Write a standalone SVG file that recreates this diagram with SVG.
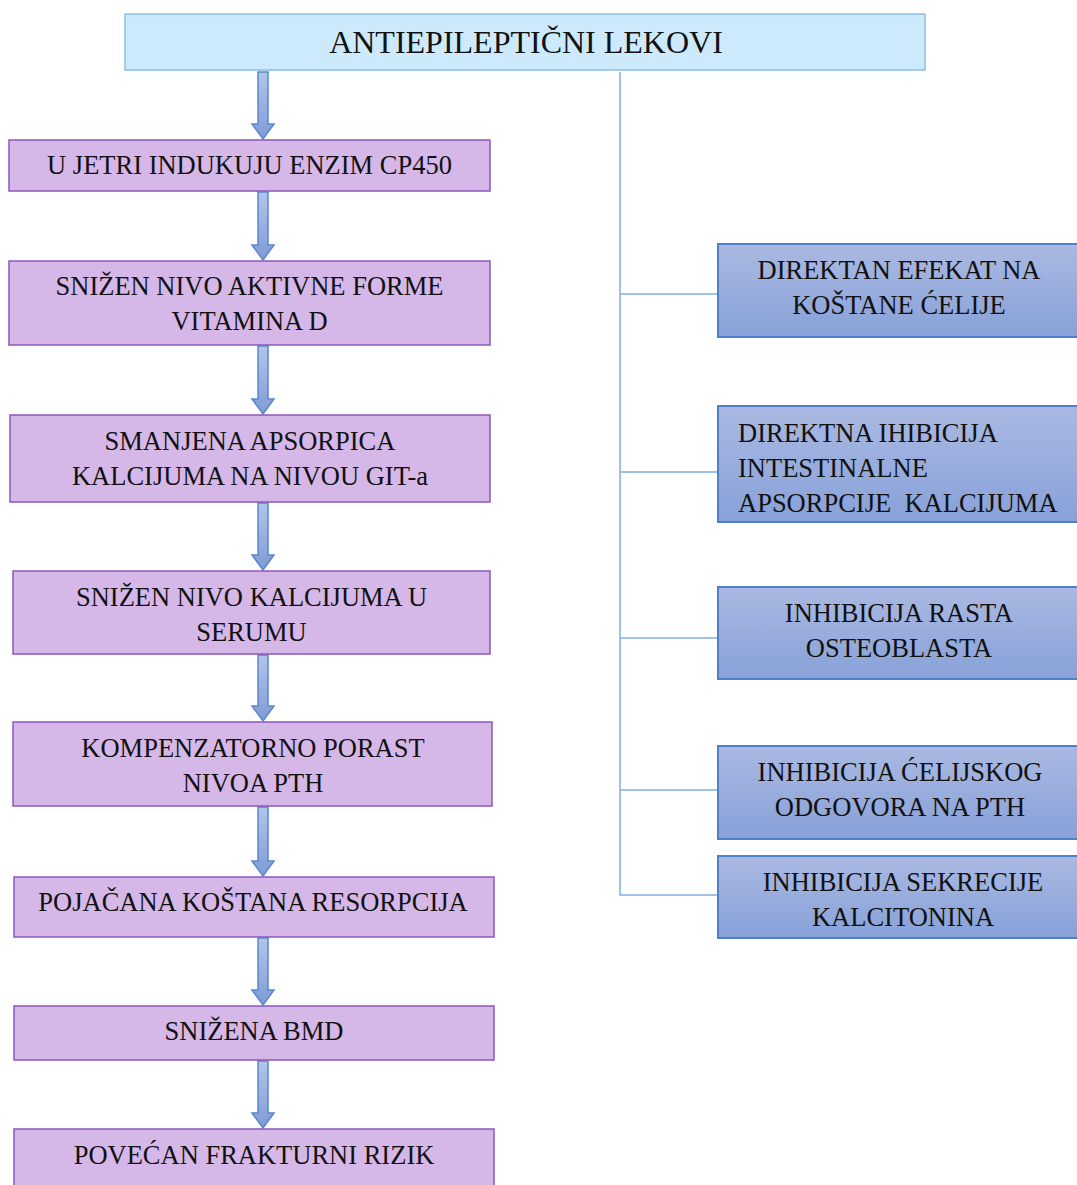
<svg xmlns="http://www.w3.org/2000/svg" width="1077" height="1185" viewBox="0 0 1077 1185">
<style>
  text { font-family: "Liberation Serif", "Times New Roman", serif; font-size: 26.5px; fill: #111; }
  .c { text-anchor: middle; }
  .top { fill: #cdeafc; stroke: #8dbde8; stroke-width: 1.5; }
  .left { fill: #d5b8e8; stroke: #8e56bb; stroke-width: 1.5; }
  .right { fill: url(#gBlue); stroke: #4f7fcc; stroke-width: 2; }
  .arrow { fill: url(#gArrow); stroke: #5b86cf; stroke-width: 1.5; stroke-linejoin: miter; }
  .tree { fill: none; stroke: #7fb0e0; stroke-width: 1.5; }
</style>
<defs>
  <linearGradient id="gBlue" x1="0" y1="0" x2="0" y2="1">
    <stop offset="0" stop-color="#aab9e2"/>
    <stop offset="1" stop-color="#88a1d8"/>
  </linearGradient>
  <linearGradient id="gArrow" x1="0" y1="0" x2="0" y2="1">
    <stop offset="0" stop-color="#b2c5ea"/>
    <stop offset="1" stop-color="#7f9bd6"/>
  </linearGradient>
</defs>

<g id="connectors">
  <path class="arrow" d="M258,72 H268 V124 H274 L263,139 L252,124 H258 Z"/>
  <path class="arrow" d="M258,192 H268 V245 H274 L263,260 L252,245 H258 Z"/>
  <path class="arrow" d="M258,346 H268 V399 H274 L263,414 L252,399 H258 Z"/>
  <path class="arrow" d="M258,503 H268 V555 H274 L263,570 L252,555 H258 Z"/>
  <path class="arrow" d="M258,655 H268 V706 H274 L263,721 L252,706 H258 Z"/>
  <path class="arrow" d="M258,807 H268 V861 H274 L263,876 L252,861 H258 Z"/>
  <path class="arrow" d="M258,938 H268 V990 H274 L263,1005 L252,990 H258 Z"/>
  <path class="arrow" d="M258,1061 H268 V1113 H274 L263,1128 L252,1113 H258 Z"/>
  <path class="tree" d="M620,72 V895 H718 M620,294 H718 M620,472 H718 M620,638 H718 M620,790 H718"/>
</g>

<g id="n0">
  <rect class="top" x="125" y="14" width="800" height="56"/>
  <text class="c" x="526" y="53" style="font-size:32px">ANTIEPILEPTIČNI LEKOVI</text>
</g>

<g id="n1">
  <rect class="left" x="9" y="140" width="481" height="51"/>
  <text class="c" x="249.5" y="174">U JETRI INDUKUJU ENZIM CP450</text>
</g>
<g id="n2">
  <rect class="left" x="9" y="261" width="481" height="84"/>
  <text class="c" x="249.5" y="295">SNIŽEN NIVO AKTIVNE FORME</text>
  <text class="c" x="249.5" y="330">VITAMINA D</text>
</g>
<g id="n3">
  <rect class="left" x="10" y="415" width="480" height="87"/>
  <text class="c" x="250" y="450">SMANJENA APSORPICA</text>
  <text class="c" x="250" y="485">KALCIJUMA NA NIVOU GIT-a</text>
</g>
<g id="n4">
  <rect class="left" x="13" y="571" width="477" height="83"/>
  <text class="c" x="251.5" y="606">SNIŽEN NIVO KALCIJUMA U</text>
  <text class="c" x="251.5" y="641">SERUMU</text>
</g>
<g id="n5">
  <rect class="left" x="13" y="722" width="479" height="84"/>
  <text class="c" x="253" y="757">KOMPENZATORNO PORAST</text>
  <text class="c" x="253" y="792">NIVOA PTH</text>
</g>
<g id="n6">
  <rect class="left" x="14" y="877" width="480" height="60"/>
  <text class="c" x="253" y="911">POJAČANA KOŠTANA RESORPCIJA</text>
</g>
<g id="n7">
  <rect class="left" x="14" y="1006" width="480" height="54"/>
  <text class="c" x="254" y="1040">SNIŽENA BMD</text>
</g>
<g id="n8">
  <rect class="left" x="14" y="1129" width="480" height="70"/>
  <text class="c" x="254" y="1164">POVEĆAN FRAKTURNI RIZIK</text>
</g>

<g id="r1">
  <rect class="right" x="718" y="244" width="370" height="93"/>
  <text class="c" x="899" y="279">DIREKTAN EFEKAT NA</text>
  <text class="c" x="899" y="314">KOŠTANE ĆELIJE</text>
</g>
<g id="r2">
  <rect class="right" x="718" y="406" width="370" height="116"/>
  <text x="738" y="442">DIREKTNA IHIBICIJA</text>
  <text x="738" y="477">INTESTINALNE</text>
  <text x="738" y="512" xml:space="preserve">APSORPCIJE  KALCIJUMA</text>
</g>
<g id="r3">
  <rect class="right" x="718" y="587" width="370" height="92"/>
  <text class="c" x="899" y="622">INHIBICIJA RASTA</text>
  <text class="c" x="899" y="657">OSTEOBLASTA</text>
</g>
<g id="r4">
  <rect class="right" x="718" y="746" width="370" height="93"/>
  <text class="c" x="900" y="781">INHIBICIJA ĆELIJSKOG</text>
  <text class="c" x="900" y="816">ODGOVORA NA PTH</text>
</g>
<g id="r5">
  <rect class="right" x="718" y="856" width="370" height="82"/>
  <text class="c" x="903" y="891">INHIBICIJA SEKRECIJE</text>
  <text class="c" x="903" y="926">KALCITONINA</text>
</g>
</svg>
